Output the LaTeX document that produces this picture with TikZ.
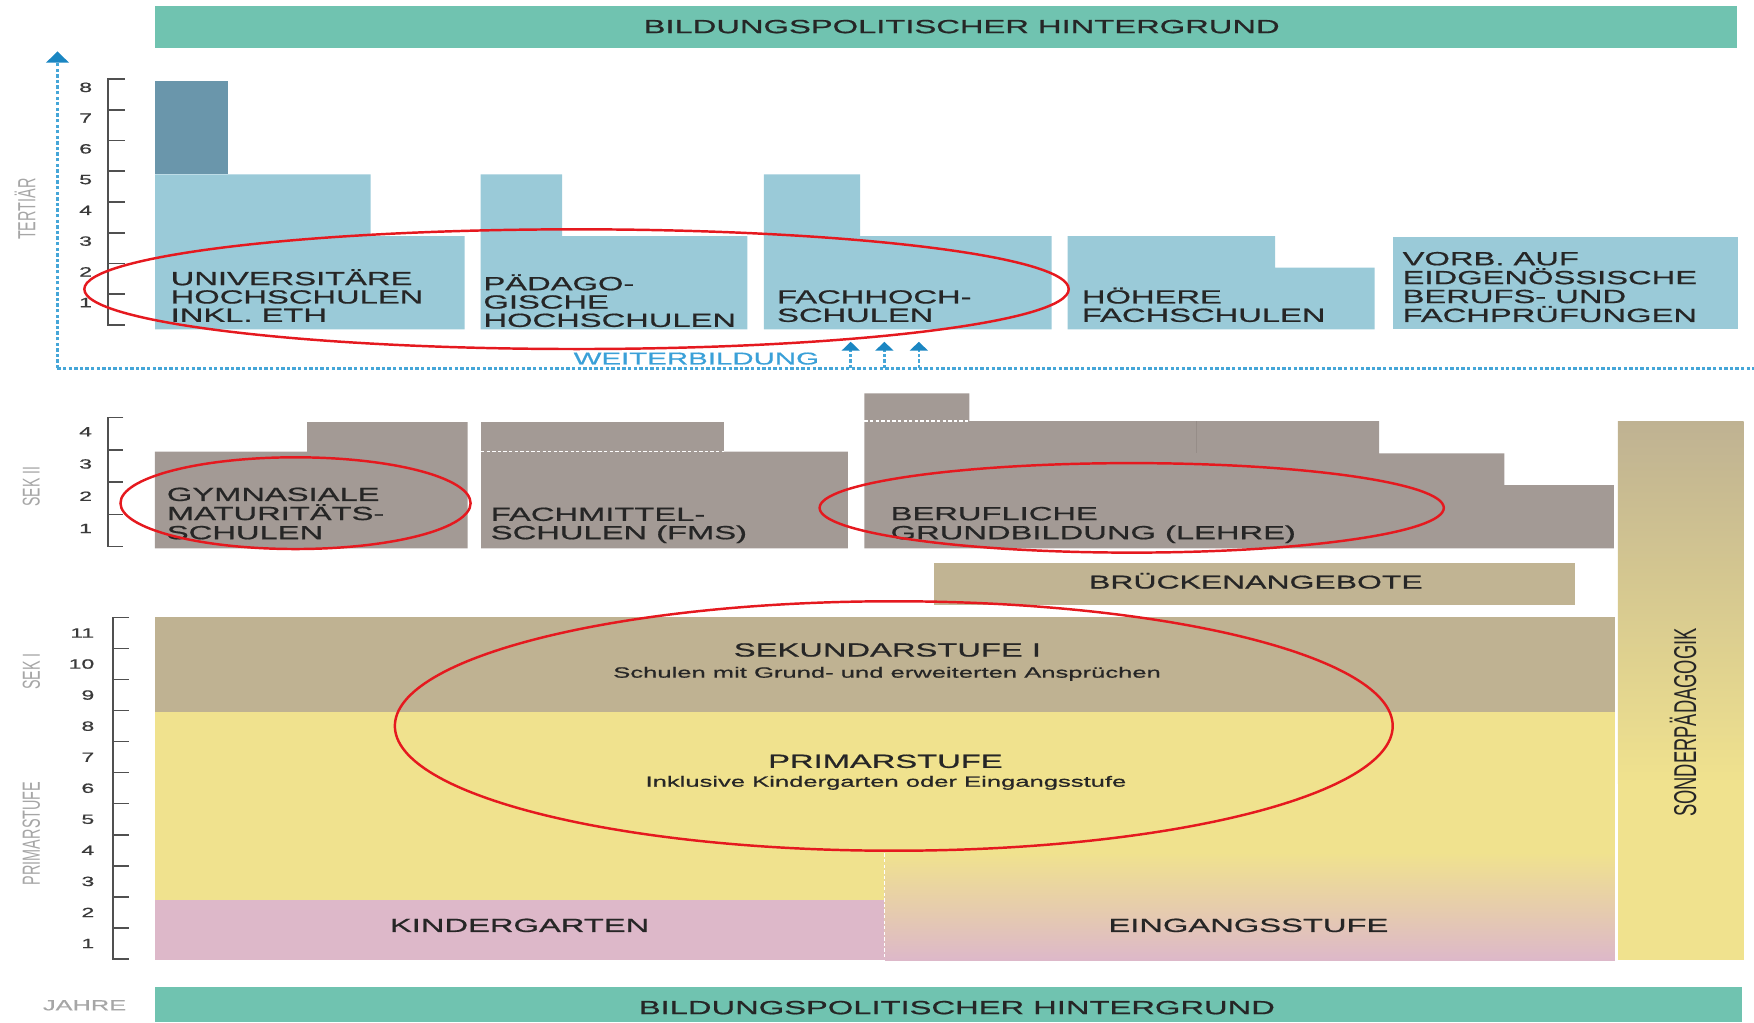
\documentclass[tikz,border=0pt]{standalone}
\usepackage{fontspec}
\usepackage{graphicx}
\setmainfont{Liberation Sans}[FakeStretch=1.72, FakeBold=0.8]
\newfontfamily\plainsf{Liberation Sans}
\usetikzlibrary{arrows.meta}
\definecolor{tealbar}{HTML}{70C3B0}
\definecolor{lblue}{HTML}{9ACAD8}
\definecolor{dblue}{HTML}{6A96AB}
\definecolor{sgray}{HTML}{A39A95}
\definecolor{sgrayline}{HTML}{968D88}
\definecolor{tanA}{HTML}{BFB292}
\definecolor{tanB}{HTML}{C1B493}
\definecolor{yel}{HTML}{F0E28E}
\definecolor{pinkK}{HTML}{DDB8C9}
\definecolor{txt}{HTML}{262626}
\definecolor{axisgray}{HTML}{505050}
\definecolor{numgray}{HTML}{3A3A3A}
\definecolor{sidegray}{HTML}{A6A6A6}
\definecolor{dotblue}{HTML}{45A6D8}
\definecolor{arrowblue}{HTML}{1A86C2}
\definecolor{weiterblue}{HTML}{3AA0D8}
\definecolor{redc}{HTML}{E5191F}
\newcommand{\fsA}{\fontsize{17}{17}\selectfont}
\newcommand{\fsS}{\fontsize{13.3}{13.3}\selectfont}
\newcommand{\fsN}{\fontsize{12}{12}\selectfont}
\newcommand{\stk}[2]{\vtop{\baselineskip=#1pt\lineskiplimit=-100pt\lineskip=0pt\halign{##\hfil\cr#2\crcr}}}
\newcommand{\rot}[2]{\scalebox{1}[1.72]{\plainsf\fontsize{#1}{#1}\selectfont #2}}
\tikzset{
  lbl/.style={inner sep=0pt, text=txt, font=\fsA},
  sublbl/.style={inner sep=0pt, text=txt, font=\fsS},
  numlbl/.style={inner sep=0pt, text=numgray, font=\fsN, anchor=east},
  sidelbl/.style={inner sep=0pt, text=sidegray, rotate=90},
  axisline/.style={draw=axisgray, line width=1.4pt},
  bluedot/.style={draw=dotblue, line width=2.6pt, dash pattern=on 3pt off 2pt},
  whitedash/.style={draw=white, line width=1.2pt, dash pattern=on 3pt off 2pt},
  redell/.style={draw=redc, line width=2.2pt},
  upr/.style={-{Triangle[width=16pt,length=8pt,color=arrowblue]}}
}
\begin{document}
\begin{tikzpicture}[x=1pt,y=-1pt]
\useasboundingbox (0,0) rectangle (1568,914);
% bars
\fill[tealbar] (138.6,5.4) rectangle (1553.2,43.2);
\fill[tealbar] (138.6,882) rectangle (1557,914);
% tertiary
\fill[dblue] (138.7,72.4) rectangle (203.7,155.8);
\fill[lblue] (138.7,155.8) -- (331.4,155.8) -- (331.4,211) -- (415.3,211) -- (415.3,294.4) -- (138.7,294.4) -- cycle;
\fill[lblue] (429.7,155.8) -- (502.6,155.8) -- (502.6,211) -- (668.1,211) -- (668.1,294.4) -- (429.7,294.4) -- cycle;
\fill[lblue] (682.8,155.8) -- (769,155.8) -- (769,211) -- (940.1,211) -- (940.1,294.4) -- (682.8,294.4) -- cycle;
\fill[lblue] (954.4,211) -- (1140,211) -- (1140,239.3) -- (1228.9,239.3) -- (1228.9,294.4) -- (954.4,294.4) -- cycle;
\fill[lblue] (1245.1,211.6) rectangle (1553.3,294.4);
% sek II
\fill[sgray] (138.5,403.8) -- (274.5,403.8) -- (274.5,377.4) -- (418,377.4) -- (418,490.2) -- (138.5,490.2) -- cycle;
\fill[sgray] (430,377.4) -- (647,377.4) -- (647,403.8) -- (758,403.8) -- (758,490.2) -- (430,490.2) -- cycle;
\fill[sgray] (772.7,351.6) -- (866.5,351.6) -- (866.5,376.4) -- (1232.8,376.4) -- (1232.8,405.3) -- (1344.8,405.3) -- (1344.8,433.6) -- (1442.8,433.6) -- (1442.8,490.2) -- (772.7,490.2) -- cycle;
\draw[sgrayline, line width=0.8pt] (1069.2,376.4) -- (1069.2,405.3);
\draw[whitedash] (430,403.8) -- (647,403.8);
\draw[whitedash] (772.7,376.4) -- (866.5,376.4);
% Brueckenangebote
\fill[tanB] (834.6,503) rectangle (1408.2,540.8);
% Sonderpaedagogik
\shade[top color=tanA, bottom color=yel] (1446.4,376.4) rectangle (1558.7,700);
\fill[yel] (1446.4,699) rectangle (1558.7,858.2);
% Sek I / Primar
\fill[tanA] (138.5,551.4) rectangle (1443.5,636.8);
\fill[yel] (138.5,636.8) rectangle (1443.5,858.2);
\fill[pinkK] (138.5,804.6) rectangle (790.8,858.2);
\shade[top color=yel, bottom color=pinkK] (790.8,762) rectangle (1443.5,858.2);
\draw[whitedash] (790.8,762.9) -- (790.8,858.2);
\draw[whitedash] (1444.6,376.4) -- (1444.6,858.2);
% texts
\node[lbl, anchor=base] (topbar) at (859.7,29.6) {BILDUNGSPOLITISCHER HINTERGRUND};
\node[lbl, anchor=base] (botbar) at (855.4,906.6) {BILDUNGSPOLITISCHER HINTERGRUND};
\node[lbl, anchor=base west] (uni) at (152.4,254.9) {\stk{16.4}{UNIVERSITÄRE\cr HOCHSCHULEN\cr INKL. ETH}};
\node[lbl, anchor=base west] (ph) at (432,259.4) {\stk{16.4}{PÄDAGO-\cr GISCHE\cr HOCHSCHULEN}};
\node[lbl, anchor=base west] (fh) at (694.5,271.3) {\stk{16.4}{FACHHOCH-\cr SCHULEN}};
\node[lbl, anchor=base west] (hf) at (967,271.3) {\stk{16.4}{HÖHERE\cr FACHSCHULEN}};
\node[lbl, anchor=base west] (vorb) at (1253.7,237.1) {\stk{16.9}{VORB. AUF\cr EIDGENÖSSISCHE\cr BERUFS- UND\cr FACHPRÜFUNGEN}};
\node[lbl, anchor=base west] (gym) at (149,447.8) {\stk{17.1}{GYMNASIALE\cr MATURITÄTS-\cr SCHULEN}};
\node[lbl, anchor=base west] (fms) at (438.6,465.6) {\stk{16.4}{FACHMITTEL-\cr SCHULEN (FMS)}};
\node[lbl, anchor=base west] (beruf) at (796,465) {\stk{17}{BERUFLICHE\cr GRUNDBILDUNG (LEHRE)}};
\node[lbl, anchor=base, font=\fontsize{16.6}{16.6}\selectfont] (bruecke) at (1122.7,526.1) {BRÜCKENANGEBOTE};
\node[lbl, anchor=base] (seki) at (793.3,586.9) {SEKUNDARSTUFE I};
\node[sublbl, anchor=base] (sekisub) at (793,605.8) {Schulen mit Grund- und erweiterten Ansprüchen};
\node[lbl, anchor=base] (prim) at (791.5,686.4) {PRIMARSTUFE};
\node[sublbl, anchor=base] (primsub) at (792,703.3) {Inklusive Kindergarten oder Eingangsstufe};
\node[lbl, anchor=base] (kiga) at (464.5,833.1) {KINDERGARTEN};
\node[lbl, anchor=base] (eing) at (1116,833.1) {EINGANGSSTUFE};
\node[inner sep=0pt, text=txt, rotate=90] (sonder) at (1504.6,646) {\rot{16.4}{SONDERPÄDAGOGIK}};
\node[inner sep=0pt, anchor=base, text=weiterblue, font=\fontsize{15.3}{15.3}\selectfont] (weiter) at (622.5,325.8) {WEITERBILDUNG};
% side labels
\node[sidelbl] (tert) at (22.3,187) {\rot{12.9}{TERTIÄR}};
\node[sidelbl] (sekii) at (28,435) {\rot{12.6}{SEK II}};
\node[sidelbl] (sekil) at (28,600.4) {\rot{12.8}{SEK I}};
\node[sidelbl] (priml) at (28,745) {\rot{12.9}{PRIMARSTUFE}};
\node[inner sep=0pt, anchor=base, text=sidegray, font=\fontsize{13.2}{13.2}\selectfont] (jahre) at (75.6,903.2) {JAHRE};
% axes
\draw[axisline] (111.3,70.6) -- (96.6,70.6) -- (96.6,290.5) -- (111.3,290.5);
\foreach \k in {1,...,7} \draw[axisline] (96.6,{70.6+27.49*\k}) -- (111.3,{70.6+27.49*\k});
\foreach \n in {1,...,8} \node[numlbl] (t\n) at (82.5,{298.0-27.49*\n}) {\n};
\draw[axisline] (110.3,373.4) -- (96.5,373.4) -- (96.5,488.7) -- (110.3,488.7);
\foreach \k in {1,...,3} \draw[axisline] (96.5,{373.4+28.82*\k}) -- (110.3,{373.4+28.82*\k});
\foreach \n in {1,...,4} \node[numlbl] (s\n) at (82.5,{501.2-28.82*\n}) {\n};
\draw[axisline] (115.4,551.9) -- (101.1,551.9) -- (101.1,857.3) -- (115.4,857.3);
\foreach \k in {1,...,10} \draw[axisline] (101.1,{551.9+27.76*\k}) -- (115.4,{551.9+27.76*\k});
\foreach \n in {1,...,11} \node[numlbl] (p\n) at (84.5,{871.2-27.76*\n}) {\n};
% blue axis
\coordinate (axbase) at (51.4,329.3);
\coordinate (axtop) at (51.4,46);
\coordinate (axright) at (1568,329.3);
\draw[bluedot] (axbase) -- (axright);
\draw[bluedot, -{Triangle[width=20pt,length=10pt,color=arrowblue]}] (axbase) -- (axtop);
\foreach \i/\xx in {1/760.5,2/790.6,3/821.4} {
  \coordinate (wb\i) at (\xx,329.3);
  \coordinate (wt\i) at (\xx,305.5);
  \draw[bluedot, line width=2.2pt, upr] (wb\i) -- (wt\i);
}
% red ellipses
\draw[redell] (515.4,258.5) ellipse [x radius=440pt, y radius=53.5pt];
\draw[redell] (264.2,449.8) ellipse [x radius=156.5pt, y radius=41pt];
\draw[redell] (1011.7,454) ellipse [x radius=279pt, y radius=40pt];
\draw[redell] (799,649) ellipse [x radius=446pt, y radius=111.5pt];
\end{tikzpicture}
\end{document}
